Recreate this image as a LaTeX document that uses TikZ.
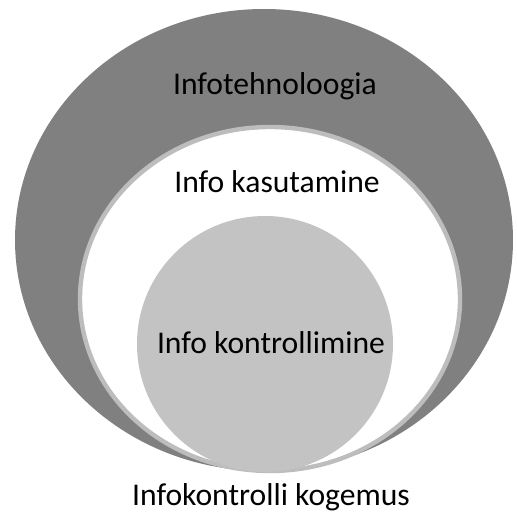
\documentclass[tikz,border=0pt]{standalone}
\usepackage{fontspec}
\setmainfont{Carlito}
\usepackage{tikz}
\usetikzlibrary{positioning}

\definecolor{outergray}{HTML}{808080}
\definecolor{innergray}{HTML}{C3C3C3}
\definecolor{rimgray}{HTML}{BDBDBD}

\begin{document}
\begin{tikzpicture}[x=0.02cm,y=-0.02cm]
\tikzstyle{every node}=[text=black,inner sep=0pt]
\tikzset{font=\fontsize{18pt}{20pt}\selectfont}
\useasboundingbox (0,0) rectangle (517,513);

        % layers
        \fill[outergray]                       (264,240) ellipse [x radius=249, y radius=231];
        \filldraw[fill=white, draw=rimgray, line width=2.5pt] (270,299) ellipse [x radius=190, y radius=172];
        \fill[innergray]                       (265,344) circle [radius=128];

        % labels
        \node[anchor=base]   (tech)   at (275,95)   {Infotehnoloogia};
        \node[anchor=base]   (use)    at (277,193)  {Info kasutamine};
        \node[anchor=base]   (ctrl)   at (271,353)  {Info kontrollimine};
        \node[anchor=base]   (exp)    at (271,505)  {Infokontrolli kogemus};

\end{tikzpicture}
\end{document}
